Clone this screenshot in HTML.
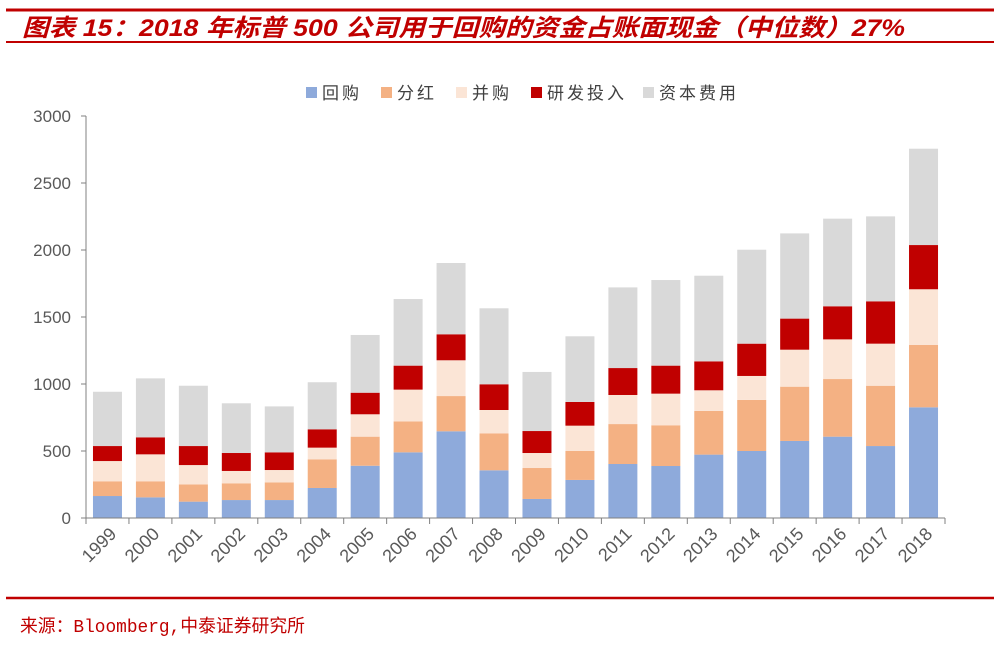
<!DOCTYPE html>
<html><head><meta charset="utf-8">
<style>
body{margin:0;background:#fff;width:1000px;height:642px;overflow:hidden;font-family:"Liberation Sans","Noto Sans CJK SC",sans-serif;}
</style></head>
<body>
<svg width="1000" height="642" viewBox="0 0 1000 642" xmlns="http://www.w3.org/2000/svg">
<line x1="6" y1="10" x2="994" y2="10" stroke="#c00000" stroke-width="3"/>
<line x1="6" y1="42" x2="994" y2="42" stroke="#c00000" stroke-width="2"/>
<text x="22" y="36" font-size="24" font-weight="bold" font-style="italic" fill="#c00000" textLength="883" lengthAdjust="spacingAndGlyphs" font-family="'Liberation Sans','Noto Sans CJK SC',sans-serif">图表 15：2018 年标普 500 公司用于回购的资金占账面现金（中位数）27%</text>
<g id="legend"></g>
<g id="plot"></g>
<line x1="6" y1="598" x2="994" y2="598" stroke="#c00000" stroke-width="2.5"/>
<text x="20" y="632" font-size="18" fill="#c00000" textLength="285" lengthAdjust="spacingAndGlyphs" font-family="'Liberation Mono','Noto Sans CJK SC',monospace">来源：Bloomberg,中泰证券研究所</text>
</svg>
<script>
const categories=["1999","2000","2001","2002","2003","2004","2005","2006","2007","2008","2009","2010","2011","2012","2013","2014","2015","2016","2017","2018"];
const buyback=[164,154,122,134,134,224,390,490,647,356,142,284,403,388,473,500,575,607,537,826];
const dividend=[110,120,129,125,132,214,217,231,263,276,231,216,298,304,326,381,405,430,450,465];
const acquisition=[151,201,144,92,92,87,167,237,267,174,112,189,217,236,154,179,276,296,314,416];
const rnd=[112,127,142,134,132,137,161,179,194,192,164,177,201,209,216,241,232,247,316,330];
const capex=[405,440,450,371,343,351,431,497,532,567,441,490,602,639,639,701,636,654,634,719];
const seriesNames=["回购","分红","并购","研发投入","资本费用"];
const yTicks=[0,500,1000,1500,2000,2500,3000];

const NS="http://www.w3.org/2000/svg";
const series=[buyback,dividend,acquisition,rnd,capex];
const colors=["#8eaadb","#f4b183","#fbe5d6","#c00000","#d9d9d9"];
const keys=["buyback","dividend","acquisition","rnd","capex"];
const X0=86,X1=945,Y0=518,Y3=116,YMAX=3000;
const band=(X1-X0)/categories.length;
const barW=29;
function y(v){return Y0-(v/YMAX)*(Y0-Y3);}
function x(i){return X0+band*i+band/2;}
function mk(tag,attrs,parent){const e=document.createElementNS(NS,tag);for(const k in attrs)e.setAttribute(k,attrs[k]);parent.appendChild(e);return e;}
const plot=document.getElementById('plot');
let ax=mk('line',{x1:X0,y1:Y3,x2:X0,y2:Y0,stroke:'#808080','stroke-width':1},plot);


yTicks.forEach(t=>{
  const tk=mk('line',{x1:X0-5,y1:y(t),x2:X0,y2:y(t),stroke:'#808080'},plot);
  
  
  const tl=mk('text',{x:X0-15,y:y(t)+6,'text-anchor':'end','font-size':17,fill:'#595959'},plot);
  tl.textContent=t;
  
  
});
categories.forEach((c,i)=>{
  let cum=0;
  series.forEach((s,k)=>{
    const v=s[i];
    const r=mk('rect',{x:x(i)-barW/2,y:y(cum+v),width:barW,height:y(cum)-y(cum+v),fill:colors[k]},plot);
    
    
    cum+=v;
  });
});
let xa=mk('line',{x1:X0,y1:Y0,x2:X1,y2:Y0,stroke:'#808080'},plot);


for(let i=0;i<=categories.length;i++){
  const tk=mk('line',{x1:X0+band*i,y1:Y0,x2:X0+band*i,y2:Y0+6,stroke:'#808080'},plot);
  
  
}
categories.forEach((c,i)=>{
  const tx=x(i)+10,ty=Y0+17;
  const tl=mk('text',{x:tx,y:ty,'text-anchor':'end','font-size':18,fill:'#595959',transform:`rotate(-45 ${tx} ${ty})`},plot);
  tl.textContent=c;
  
  
});
const lg=document.getElementById('legend');
const lx=[306,381,456,531,643];
seriesNames.forEach((n,k)=>{
  const r=mk('rect',{x:lx[k],y:87,width:11,height:11,fill:colors[k]},lg);
  
  
  const t=mk('text',{x:lx[k]+16,y:99,'font-size':17,fill:'#404040','letter-spacing':3},lg);
  t.textContent=n;
  
  
});
</script>
</body></html>
